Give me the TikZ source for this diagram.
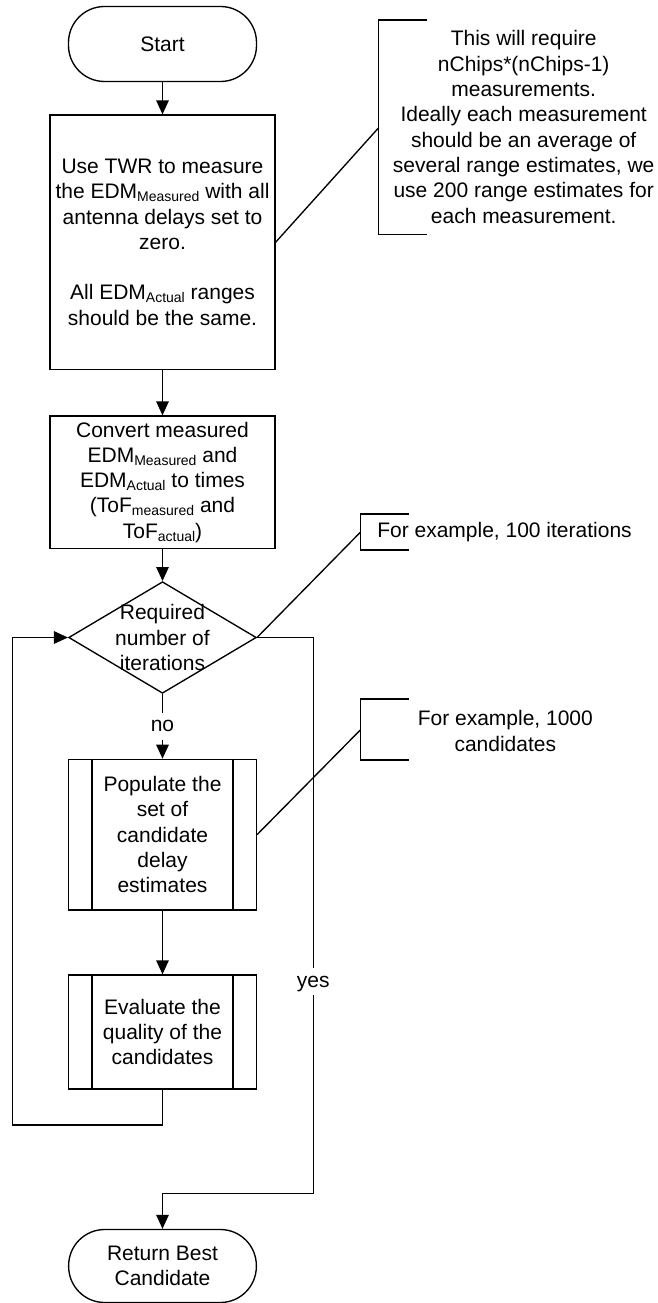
\documentclass[tikz,border=0pt]{standalone}
\usepackage{fontspec}
\setmainfont{Liberation Sans}
\usetikzlibrary{arrows.meta,shapes.geometric}
\newcommand\mysub[1]{\raisebox{-3pt}{\fontsize{14}{15}\selectfont #1}}
\begin{document}
\begin{tikzpicture}[x=1pt,y=-1pt,line width=1.35pt,
  every node/.style={font=\fontsize{21}{25.3}\selectfont, align=center, inner sep=0pt},
  term/.style={draw, rectangle, rounded corners=36pt, minimum width=188pt, minimum height=75pt},
  procbox/.style={draw, rectangle, minimum width=225pt},
  subproc/.style={draw, rectangle, minimum width=187.7pt,
    path picture={
      \draw ([xshift=23.3pt]path picture bounding box.north west) -- ([xshift=23.3pt]path picture bounding box.south west);
      \draw ([xshift=-23.3pt]path picture bounding box.north east) -- ([xshift=-23.3pt]path picture bounding box.south east);}},
  decision/.style={draw, diamond, minimum width=187.7pt, minimum height=111.6pt, inner sep=0pt},
  arr/.style={-{Triangle[length=14pt,width=12.5pt]}},
  lab/.style={fill=white, inner sep=4pt, text height=15pt, text depth=4pt}
]
\useasboundingbox (0,0) rectangle (657,1303);

% main flow
\node[term] (start) at (162.5,44) {Start};
\node[procbox, minimum height=254.3pt] (b1) at (162.5,242.2)
  {Use TWR to measure\\ the EDM\mysub{Measured} with all\\ antenna delays set to\\ zero.\\[25.3pt] All EDM\mysub{Actual} ranges\\ should be the same.};
\node[procbox, minimum height=132.3pt] (b2) at (162.5,482.2)
  {Convert measured\\ EDM\mysub{Measured} and\\ EDM\mysub{Actual} to times\\ (ToF\mysub{measured} and\\ ToF\mysub{actual})};
\node[decision] (dia) at (162.5,637.5) {};
\node (diat) at (dia.center) {Required\\ number of\\ iterations};
\node[subproc, minimum height=150.7pt] (pop) at (162.5,834.7)
  {Populate the\\ set of\\ candidate\\ delay\\ estimates};
\node[subproc, minimum height=114pt] (eva) at (162.5,1032)
  {Evaluate the\\ quality of the\\ candidates};
\node[term, minimum width=187.7pt, minimum height=73pt] (ret) at (162.5,1266)
  {Return Best\\ Candidate};

% annotations
\node (a1) at (523.7,127) {This will require\\ nChips*(nChips-1)\\ measurements.\\ Ideally each measurement\\ should be an average of\\ several range estimates, we\\ use 200 range estimates for\\ each measurement.};
\draw (427,20) -- (378.7,20) -- (378.7,234.3) -- (427,234.3);
\coordinate (k1) at (378.7,127.7);
\draw (b1.east) -- (k1);

\node (a2) at (504.5,532.3) {For example, 100 iterations};
\draw (408.7,514) -- (360.3,514) -- (360.3,550) -- (408.7,550);
\coordinate (k2) at (360.3,532.3);
\draw (dia.east) -- (k2);

\node (a3) at (505.3,731) {For example, 1000\\ candidates};
\draw (408.7,699) -- (360.3,699) -- (360.3,760) -- (408.7,760);
\coordinate (k3) at (360.3,730);
\draw (pop.east) -- (k3);

% connectors
\draw[arr] (start) -- (b1);
\draw[arr] (b1) -- (b2);
\draw[arr] (b2) -- (dia);
\draw[arr] (dia) -- node[lab] {no} (pop);
\draw[arr] (pop) -- (eva);

\coordinate (lp1) at (162.5,1125);
\coordinate (lp2) at (12.3,1125);
\coordinate (lp3) at (12.3,637.5);
\draw[arr] (eva.south) -- (lp1) -- (lp2) -- (lp3) -- (dia.west);

\coordinate (y1) at (313.3,637.5);
\coordinate (y2) at (313.3,1193.3);
\coordinate (y3) at (162.5,1193.3);
\draw[arr] (dia.east) -- (y1) -- node[lab, pos=0.619] {yes} (y2) -- (y3) -- (ret.north);
\end{tikzpicture}
\end{document}
